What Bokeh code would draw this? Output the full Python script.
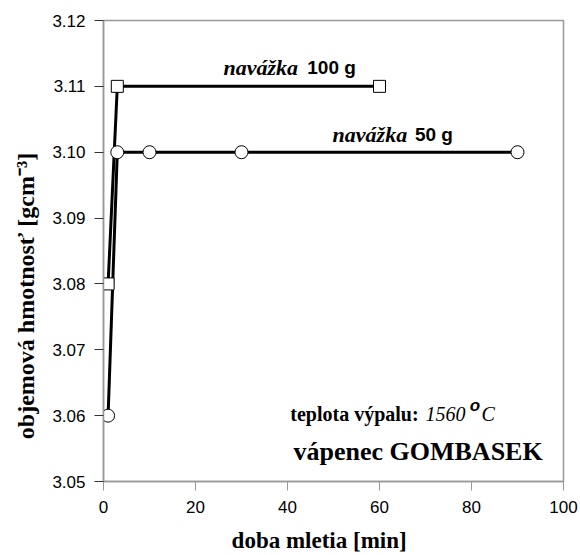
from bokeh.plotting import figure
from bokeh.models import Range1d, FixedTicker, CustomJSTickFormatter
from bokeh.core.properties import value
from bokeh.embed import file_html
from bokeh.resources import INLINE

# data
x_100 = [1, 3, 60]
y_100 = [3.08, 3.11, 3.11]
x_50 = [1, 3, 10, 30, 90]
y_50 = [3.06, 3.10, 3.10, 3.10, 3.10]
x_ticks = [0, 20, 40, 60, 80, 100]
y_ticks = [3.05, 3.06, 3.07, 3.08, 3.09, 3.10, 3.11, 3.12]
x_title = "doba mletia [min]"
y_title = "objemová hmotnosť [gcm⁻³]"

NB = "\u00a0"

p = figure(width=580, height=555, output_backend="svg", toolbar_location=None,
           x_range=Range1d(0, 100), y_range=Range1d(3.05, 3.12),
           min_border_left=103, min_border_right=17, min_border_top=20, min_border_bottom=74)
p.grid.visible = False
p.outline_line_color = "#999999"
p.outline_line_width = 1.5
p.background_fill_color = "white"
p.border_fill_color = "white"

p.xaxis.ticker = FixedTicker(ticks=x_ticks)
p.yaxis.ticker = FixedTicker(ticks=y_ticks)
p.yaxis.formatter = CustomJSTickFormatter(code="return tick.toFixed(2);")
for ax in (p.xaxis, p.yaxis):
    ax.axis_line_color = "#999999"
    ax.axis_line_width = 1.5
    ax.major_tick_in = 0
    ax.major_tick_out = 9
    ax.minor_tick_line_color = None
    ax.major_label_text_font = "Liberation Sans"
    ax.major_label_text_font_size = "17px"
    ax.major_label_text_color = "black"
    ax.axis_label_text_font = "Liberation Serif"
    ax.axis_label_text_font_style = "bold"
    ax.axis_label_text_color = "black"
p.yaxis.major_tick_line_color = "#333333"
p.xaxis.major_tick_line_color = "#999999"
p.xaxis.major_label_standoff = 10
p.yaxis.major_label_standoff = 9

# trailing no-break spaces shift the centred titles as in the original
p.xaxis.axis_label = x_title + NB * 5
p.xaxis.axis_label_text_font_size = "23px"
p.xaxis.axis_label_standoff = 12
p.yaxis.axis_label = y_title + NB * 15
p.yaxis.axis_label_text_font_size = "24px"
p.yaxis.axis_label_standoff = 10

p.line(x_100, y_100, line_color="black", line_width=3)
p.line(x_50, y_50, line_color="black", line_width=3)
p.scatter(x_100, y_100, marker="square", size=12, fill_color="white",
          line_color="black", line_width=1)
p.scatter(x_50, y_50, marker="circle", size=13, fill_color="white",
          line_color="black", line_width=1)

serif = value("Liberation Serif")
sans = value("Liberation Sans")

def label(x, y, s, font, style, size):
    p.text(x=[x], y=[y], text=[s], text_font=font, text_font_style=style,
           text_font_size=size, text_baseline="alphabetic", text_color="black")

label(26.1, 3.1128, "navážka", serif, "bold italic", "22px")
label(44.3, 3.1128, "100 g", sans, "bold", "19px")
label(49.8, 3.1027, "navážka", serif, "bold italic", "22px")
label(67.7, 3.1027, "50 g", sans, "bold", "19px")

label(40.6, 3.0602, "teplota výpalu:", serif, "bold", "20px")
label(70.0, 3.0602, "1560", serif, "italic", "20px")
label(79.6, 3.0616, "o", sans, "bold italic", "17px")
label(82.2, 3.0602, "C", serif, "italic", "20px")
label(41.3, 3.0546, "vápenec GOMBASEK", serif, "bold", "26px")

open("out.html", "w").write(file_html(p, INLINE))
